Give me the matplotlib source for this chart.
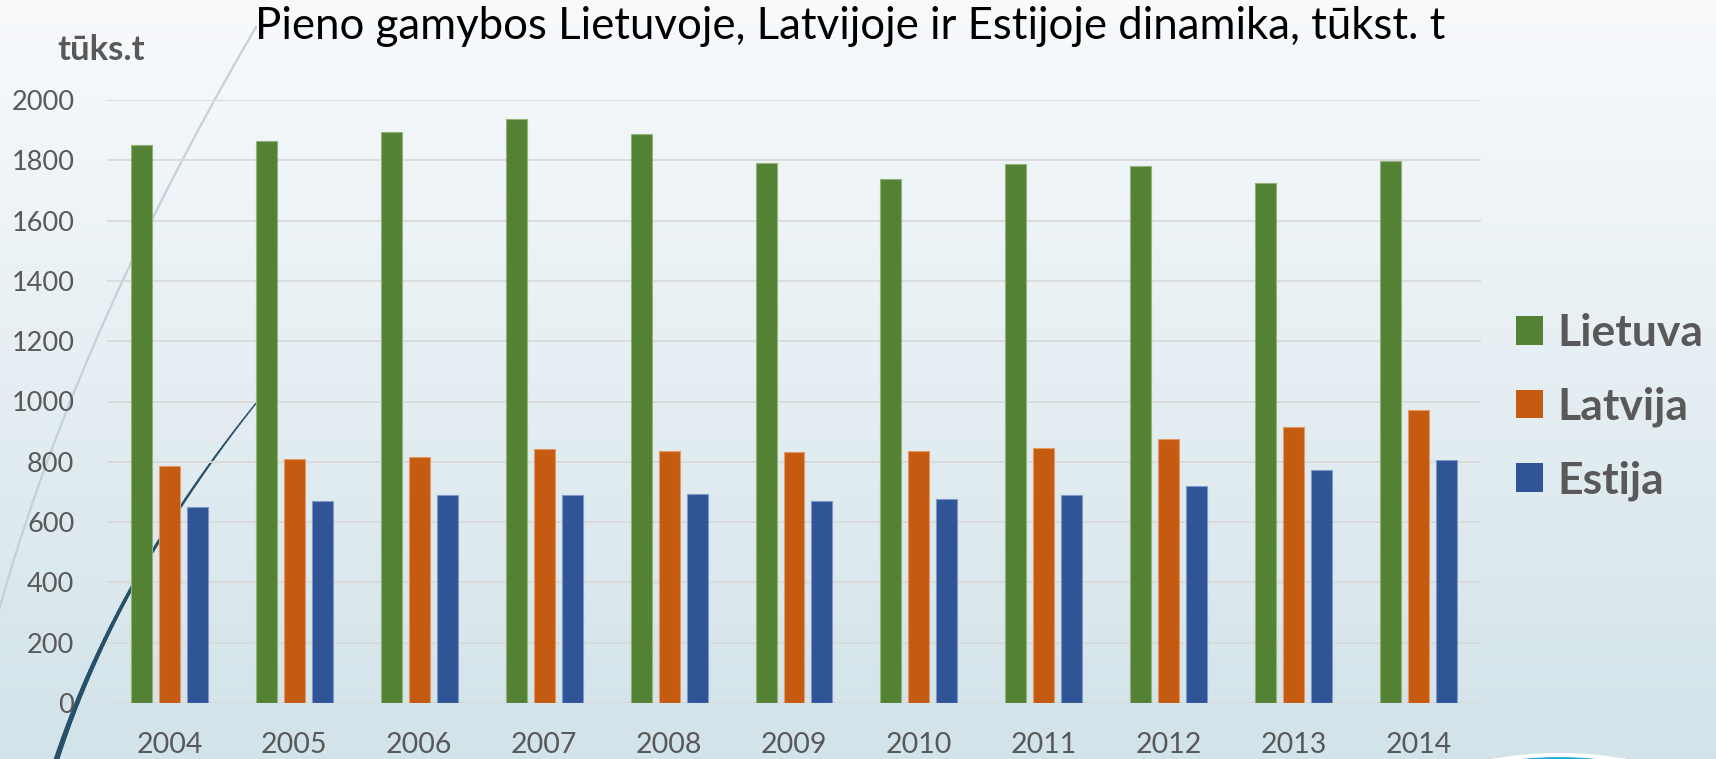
import matplotlib
matplotlib.use('Agg')
import matplotlib.pyplot as plt
import numpy as np
from matplotlib.patches import Patch, Circle
from matplotlib.collections import LineCollection

# ---- data ----
years = ['2004', '2005', '2006', '2007', '2008', '2009', '2010', '2011', '2012', '2013', '2014']
lietuva = [1850, 1863, 1893, 1937, 1886, 1792, 1737, 1788, 1780, 1724, 1797]
latvija = [786, 809, 815, 841, 835, 831, 835, 845, 875, 915, 972]
estija = [651, 670, 690, 691, 693, 670, 676, 691, 720, 772, 805]
series_names = ['Lietuva', 'Latvija', 'Estija']
yticks = [0, 200, 400, 600, 800, 1000, 1200, 1400, 1600, 1800, 2000]
title = 'Pieno gamybos Lietuvoje, Latvijoje ir Estijoje dinamika, tūkst. t'
ylabel = 'tūks.t'

colors = ['#548235', '#c55a11', '#2f5597']
edges = ['#93b27a', '#e39a66', '#8099c9']
grey = '#595959'

plt.rcParams['font.family'] = ['Lato', 'DejaVu Sans']

W, H = 1716, 759
fig = plt.figure(figsize=(W / 100, H / 100), dpi=100)

# ---- background (slide) ----
bg = fig.add_axes([0, 0, 1, 1], zorder=0)
bg.set_xlim(0, W)
bg.set_ylim(H, 0)
bg.axis('off')
top = np.array([0.973, 0.980, 0.988])
bot = np.array([0.824, 0.890, 0.914])
t = np.linspace(0, 1, 256)[:, None]
grad = (top[None, :] * (1 - t) + bot[None, :] * t)[:, None, :]
bg.imshow(grad, extent=[0, W, H, 0], aspect='auto', zorder=0)

def bezier(p0, p1, p2, n=120):
    s = np.linspace(0, 1, n)[:, None]
    p0, p1, p2 = map(np.array, (p0, p1, p2))
    return (1 - s) ** 2 * p0 + 2 * (1 - s) * s * p1 + s ** 2 * p2

light = bezier((256, 27), (70, 346), (-5, 625))
bg.plot(light[:, 0], light[:, 1], color='#c3d2da', lw=1.6, zorder=1)

dark = bezier((50, 780), (108, 588), (257, 402))
segs = np.stack([dark[:-1], dark[1:]], axis=1)
widths = np.linspace(4.0, 1.0, len(segs))
bg.add_collection(LineCollection(segs, linewidths=widths, colors='#27506b',
                                 capstyle='round', zorder=2))

bg.add_patch(Circle((1559, 1135), 380, facecolor='#1ea8e0', edgecolor='white',
                    lw=3, zorder=2))

# ---- chart ----
ax = fig.add_axes([107 / W, 1 - 703 / H, 1374 / W, 603 / H], zorder=1)
ax.patch.set_alpha(0)
x = np.arange(len(years))
step, bw = 0.224, 0.168
for i, (vals, c, e, name) in enumerate(zip([lietuva, latvija, estija], colors, edges, series_names)):
    ax.bar(x + (i - 1) * step, vals, width=bw, color=c, edgecolor=e, linewidth=0.8,
           label=name, zorder=3)

ax.set_xlim(-0.5, len(years) - 0.5)
ax.set_ylim(0, 2000)
ax.set_yticks(yticks)
ax.set_xticks(x)
ax.set_xticklabels(years)
ax.grid(axis='y', color='#d9d9d9', lw=1.3, zorder=0)
ax.set_axisbelow(True)
for s in ax.spines.values():
    s.set_visible(False)
ax.tick_params(axis='y', length=0, pad=23.5, labelsize=19.5, labelcolor=grey)
ax.tick_params(axis='x', length=0, pad=21, labelsize=20.5, labelcolor=grey)

handles = [Patch(facecolor=c, edgecolor='none') for c in colors]
ax.legend(handles, series_names, loc='center left',
          bbox_to_anchor=(1516 / W, 1 - 407 / H), bbox_transform=fig.transFigure,
          frameon=False, prop=dict(family='Lato', weight='bold', size=32),
          labelcolor=grey, handlelength=0.61, handleheight=0.61,
          handletextpad=0.32, labelspacing=0.75, borderpad=0, borderaxespad=0)

fig.text(850 / W, 1 - 39 / H, title, ha='center', va='baseline', fontsize=31.5, color='black')
fig.text(57 / W, 1 - 60 / H, ylabel, ha='left', va='baseline', fontsize=25,
         fontweight='bold', color=grey)

fig.savefig('out.png', dpi=100)
